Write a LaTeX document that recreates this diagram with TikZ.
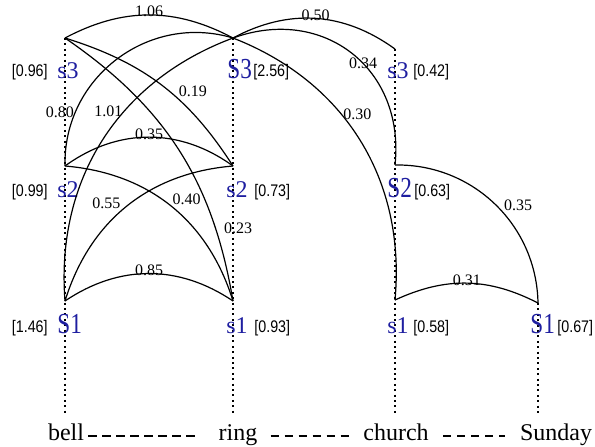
\documentclass[tikz,border=0pt]{standalone}
\usepackage{fontspec}
\setmainfont{Liberation Serif}
\newfontfamily\numfont[FakeStretch=0.85]{Liberation Sans}
\newfontfamily\bestfont[FakeStretch=0.8]{Liberation Serif}
\definecolor{senseblue}{RGB}{30,30,160}

\begin{document}
\begin{tikzpicture}[x=0.5pt,y=-0.5pt,
  sense/.style={text=senseblue, inner sep=0pt, anchor=base west, font=\fontsize{12}{12}\selectfont},
  best/.style={sense, font=\bestfont\fontsize{14.5}{14}\selectfont},
  wt/.style={inner sep=0pt, font=\numfont\fontsize{8.4}{9}\selectfont},
  elab/.style={inner sep=0.5pt, font=\fontsize{8}{9}\selectfont},
  word/.style={inner sep=2pt, anchor=base, text height=0.7em, text depth=0.25em, font=\fontsize{12}{12}\selectfont},
  link/.style={line width=0.6pt},
  senseline/.style={line width=1.3pt, dash pattern=on 1pt off 1.7pt, shorten >=3pt},
  chain/.style={line width=1pt, dash pattern=on 4.2pt off 2.8pt}]
\useasboundingbox (0,0) rectangle (595,446);
% sense points
\coordinate (b3) at (65,38);
\coordinate (b2) at (65,166);
\coordinate (b1) at (65,301);
\coordinate (r3) at (233,38);
\coordinate (r2) at (233,166);
\coordinate (r1) at (233,301);
\coordinate (c3) at (395,49);
\coordinate (c2) at (395,165);
\coordinate (c1) at (395,300);
\coordinate (u1) at (538,303);
% words
\node[word] (bell) at (66,440) {bell};
\node[word] (ring) at (238,440) {ring};
\node[word] (church) at (396,440) {church};
\node[word] (sunday) at (556,440) {Sunday};
\draw[chain, shorten >=7pt] (bell) -- (ring);
\draw[chain, shorten <=4.5pt, shorten >=2.5pt] (ring) -- (church);
\draw[chain, shorten <=5pt, shorten >=5.5pt] (church) -- (sunday);
% sense lines
\draw[senseline] (b3) -- (b3 |- bell.north);
\draw[senseline] (r3) -- (r3 |- ring.north);
\draw[senseline] (c3) -- (c3 |- church.north);
\draw[senseline] (u1) -- (u1 |- sunday.north);
% senses
\node[sense] (bs3) at (57,78) {s3};
\node[sense] (bs2) at (57,197) {s2};
\node[best] (bs1) at (57,333) {S1};
\node[best] (rs3) at (227,78) {S3};
\node[sense] (rs2) at (226,197) {s2};
\node[sense] (rs1) at (226,333) {s1};
\node[sense] (cs3) at (387,78) {s3};
\node[best] (cs2) at (387,197) {S2};
\node[sense] (cs1) at (387,333) {s1};
\node[best] (us1) at (530,333) {S1};
% sense scores
\node[wt, anchor=base east] (bw3) at (48,76) {[0.96]};
\node[wt, anchor=base east] (bw2) at (48,196) {[0.99]};
\node[wt, anchor=base east] (bw1) at (48,332) {[1.46]};
\node[wt, anchor=base west] (rw3) at (253,76) {[2.56]};
\node[wt, anchor=base west] (rw2) at (254,196) {[0.73]};
\node[wt, anchor=base west] (rw1) at (254,332) {[0.93]};
\node[wt, anchor=base west] (cw3) at (413,76) {[0.42]};
\node[wt, anchor=base west] (cw2) at (414,196) {[0.63]};
\node[wt, anchor=base west] (cw1) at (413,332) {[0.58]};
\node[wt, anchor=base west] (uw1) at (557,332) {[0.67]};
% bell -- ring
\draw[link] (b3) to[bend left=28] node[elab, pos=.5, anchor=base, yshift=-1pt] {1.06} (r3);
\draw[link] (b3) to[bend left=20] node[elab, pos=.6, anchor=south west] {0.19} (r2);
\draw[link] (b3) to[bend left=23] node[elab, pos=.78, anchor=west, xshift=3.5pt] {0.23} (r1);
\draw[link] (b2) to[bend left=54, looseness=1.07] node[elab, pos=.22, anchor=east] {0.80} (r3);
\draw[link] (b1) to[bend left=37] node[elab, pos=.61, anchor=east] {1.01} (r3);
\draw[link] (b2) to[bend left=36] node[elab, pos=.5, anchor=base, yshift=-1pt] {0.35} (r2);
\draw[link] (b2) to[bend left=34] node[elab, pos=.5, anchor=south west] {0.40} (r1);
\draw[link] (b1) to[bend left=34] node[elab, pos=.47, anchor=south east] {0.55} (r2);
\draw[link] (b1) to[bend left=34] node[elab, pos=.5, anchor=base, yshift=-1pt] {0.85} (r1);
% ring -- church
\draw[link] (r3) to[bend left=32] node[elab, pos=.5, anchor=base, yshift=-1pt] {0.50} (c3);
\draw[link] (r3) to[bend left=58, looseness=1.2] node[elab, pos=.58, anchor=south west, xshift=-9pt, yshift=-2pt] {0.34} (c2);
\draw[link] (r3) to[bend left=37] node[elab, pos=.4, anchor=west] {0.30} (c1);
% church -- Sunday
\draw[link] (c2) to[bend left=45] node[elab, pos=.55, anchor=south west] {0.35} (u1);
\draw[link] (c1) to[bend left=26] node[elab, pos=.5, anchor=base, yshift=-1pt] {0.31} (u1);
\end{tikzpicture}
\end{document}
